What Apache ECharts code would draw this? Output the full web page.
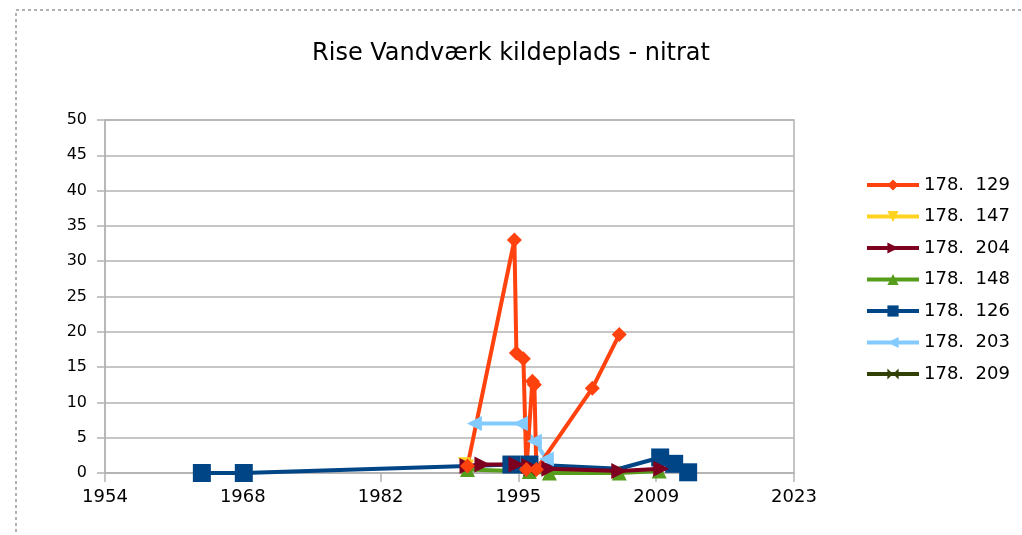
<!DOCTYPE html>
<html>
<head>
<meta charset="utf-8">
<title>Rise Vandværk kildeplads - nitrat</title>
<script src="https://cdn.jsdelivr.net/npm/echarts@6/dist/echarts.min.js"></script>
<style>
  html, body { margin: 0; padding: 0; background: #fff; }
  #main { width: 1022px; height: 535px; }
</style>
</head>
<body>
<div id="main"></div>
<script>
// boring names, data (year, nitrat mg/l)
var names = ['178.  129', '178.  147', '178.  204', '178.  148', '178.  126', '178.  203', '178.  209'];
var colors = ['#ff420e', '#ffd320', '#7e0021', '#579d1c', '#004586', '#83caff', '#314004'];

var years129 = [1990.3, 1995.0, 1995.2, 1995.9, 1996.2, 1996.8, 1997.0, 1997.2, 2002.8, 2005.5];
var vals129  = [1.0, 33.0, 17.0, 16.2, 0.5, 13.0, 12.5, 0.5, 12.0, 19.6];
var years147 = [1990.0, 1990.3];
var vals147  = [1.3, 1.0];
var years204 = [1990.3, 1991.8, 1995.2, 1996.5, 1998.5, 2005.5, 2009.7];
var vals204  = [1.0, 1.2, 1.2, 1.0, 0.6, 0.3, 0.6];
var years148 = [1990.3, 1996.5, 1998.5, 2005.5, 2009.5];
var vals148  = [0.5, 0.2, 0.0, 0.0, 0.3];
var years126 = [1963.7, 1967.9, 1990.3, 1994.7, 1996.5, 2005.5, 2009.6, 2011.0, 2012.4];
var vals126  = [0.0, 0.0, 1.0, 1.2, 1.2, 0.6, 2.2, 1.3, 0.1];
var marks126 = [1, 1, 0, 1, 1, 0, 1, 1, 1]; // points where the original shows no square
var years203 = [1991.0, 1995.6, 1997.0, 1998.2];
var vals203  = [7.0, 7.0, 4.5, 2.0];
var years209 = [1996.5];
var vals209  = [0.3];

// x axis is in tenths of a year since 1954 so the 13.8 year step is a whole number
function pts(ys, vs, marks) {
  var out = [];
  for (var i = 0; i < ys.length; i++) {
    var p = {value: [Math.round((ys[i] - 1954) * 10), vs[i]]};
    if (marks && !marks[i]) p.symbol = 'none';
    out.push(p);
  }
  return out;
}

var bowtie = 'path://M0,0 L10,5 L0,10 Z M20,0 L10,5 L20,10 Z';
var downTri = 'path://M0,0 L10,0 L5,10 Z';

var seriesDefs = [
  [years129, vals129, null, 'diamond', 15, 0],
  [years147, vals147, null, downTri, 13, 0],
  [years204, vals204, null, 'triangle', 16, -90],
  [years148, vals148, null, 'triangle', 15, 0],
  [years126, vals126, marks126, 'rect', 18, 0],
  [years203, vals203, null, 'triangle', 15, 90],
  [years209, vals209, null, bowtie, 12, 0]
];

var series = [];
for (var i = 0; i < seriesDefs.length; i++) {
  var d = seriesDefs[i];
  series.push({
    name: names[i], type: 'line',
    data: pts(d[0], d[1], d[2]),
    symbol: d[3], symbolSize: d[4], symbolRotate: d[5],
    showAllSymbol: true,
    lineStyle: {width: 4, color: colors[i]},
    itemStyle: {color: colors[i]},
    animation: false
  });
}
// draw order like the original: blue under the others, orange on top
var order = ['178.  126', '178.  203', '178.  148', '178.  147', '178.  209', '178.  204', '178.  129'];
series.sort(function (a, b) { return order.indexOf(a.name) - order.indexOf(b.name); });

var chart = echarts.init(document.getElementById('main'));
chart.setOption({
  backgroundColor: '#fff',
  animation: false,
  title: {
    text: 'Rise Vandværk kildeplads - nitrat',
    left: 'center', top: 37,
    textStyle: {fontFamily: 'DejaVu Sans', fontSize: 24, fontWeight: 'normal', color: '#000'}
  },
  graphic: [{
    type: 'rect', shape: {x: 16, y: 10, width: 1030, height: 560},
    style: {fill: 'none', stroke: '#999', lineWidth: 1.5, lineDash: [3, 3]}, silent: true
  }, {
    type: 'rect', shape: {x: 105, y: 120, width: 689, height: 353},
    style: {fill: 'none', stroke: '#b3b3b3', lineWidth: 1.5}, silent: true, z: -1
  }],
  legend: {
    orient: 'vertical', left: 860, top: 171,
    itemWidth: 52, itemHeight: 14, itemGap: 13.5,
    data: names,
    lineStyle: {width: 4},
    textStyle: {fontFamily: 'DejaVu Sans', fontSize: 18, color: '#000'}
  },
  grid: {left: 105, right: 228, top: 120, bottom: 62},
  xAxis: {
    type: 'value', min: 0, max: 690, interval: 138,
    axisLine: {show: true, lineStyle: {color: '#b3b3b3', width: 1.5}},
    axisTick: {show: true, length: 9, lineStyle: {color: '#b3b3b3', width: 1.5}},
    splitLine: {show: false},
    axisLabel: {
      fontFamily: 'DejaVu Sans', fontSize: 18, color: '#000', margin: 15,
      formatter: function (v) { return String(Math.round(1954 + v / 10)); }
    }
  },
  yAxis: {
    type: 'value', min: 0, max: 50, interval: 5,
    axisLine: {show: true, lineStyle: {color: '#b3b3b3', width: 1.5}},
    axisTick: {show: true, length: 8, lineStyle: {color: '#b3b3b3', width: 1.5}},
    splitLine: {show: true, lineStyle: {color: '#b3b3b3', width: 1.5}},
    axisLabel: {fontFamily: 'DejaVu Sans', fontSize: 16, color: '#000', margin: 18}
  },
  series: series
});
</script>
</body>
</html>
